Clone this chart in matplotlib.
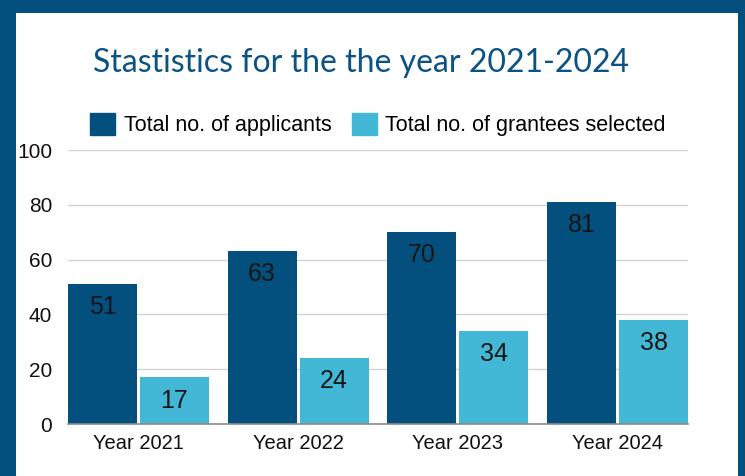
import numpy as np
import matplotlib
matplotlib.use("Agg")
import matplotlib.pyplot as plt
from matplotlib.patches import Rectangle, Patch

# Data
years = ["Year 2021", "Year 2022", "Year 2023", "Year 2024"]
applicants = [51, 63, 70, 81]
grantees = [17, 24, 34, 38]
series_names = ["Total no. of applicants", "Total no. of grantees selected"]
y_ticks = [0, 20, 40, 60, 80, 100]

dark = "#03507f"
light = "#42b8d6"
frame = "#03507f"

plt.rcParams["font.family"] = ["Liberation Sans", "DejaVu Sans"]

W, H = 745, 476
fig = plt.figure(figsize=(W / 100, H / 100), dpi=100)
fig.patch.set_facecolor("white")

# blue frame (top, left, right)
fig.add_artist(Rectangle((0, 1 - 13 / H), 1, 13 / H, transform=fig.transFigure,
                         color=frame, lw=0, zorder=0))
fig.add_artist(Rectangle((0, 0), 15.5 / W, 1, transform=fig.transFigure,
                         color=frame, lw=0, zorder=0))
fig.add_artist(Rectangle((738 / W, 0), 7 / W, 1, transform=fig.transFigure,
                         color=frame, lw=0, zorder=0))

ax = fig.add_axes([68 / W, 52 / H, 620 / W, 274 / H])

w = 69 / 160
gap = 3 / 160
off = (w + gap) / 2
x = np.arange(len(years))

b1 = ax.bar(x - off, applicants, width=w, color=dark, zorder=2)
b2 = ax.bar(x + off, grantees, width=w, color=light, zorder=2)

for bars, vals in [(b1, applicants), (b2, grantees)]:
    for bar, v in zip(bars, vals):
        ax.annotate(str(v), (bar.get_x() + bar.get_width() / 2, v),
                    xytext=(0, -8), textcoords="offset points",
                    ha="center", va="top", fontsize=18, color="#151515", zorder=3)

ax.set_xlim(-off - w / 2, len(years) - 1 + off + w / 2)
ax.set_ylim(0, 100)
ax.set_yticks(y_ticks)
ax.set_xticks(x)
ax.set_xticklabels(years)
ax.tick_params(axis="y", length=0, pad=11.5, labelsize=15, labelcolor="#111111")
ax.tick_params(axis="x", length=0, pad=7, labelsize=14.5, labelcolor="#111111")
ax.grid(axis="y", color="#d3d3d3", lw=1, zorder=0)
ax.set_axisbelow(True)
for s in ["top", "right", "left"]:
    ax.spines[s].set_visible(False)
ax.spines["bottom"].set_color("#8a8a8a")
ax.spines["bottom"].set_linewidth(1.2)
ax.spines["bottom"].set_zorder(3)

fig.text(361 / W, 1 - 72 / H, "Stastistics for the the year 2021-2024",
         ha="center", va="baseline", fontsize=23, color="#0b5285", family="Lato")

handles = [Patch(color=dark), Patch(color=light)]
fig.legend(handles, series_names, loc="center left",
           bbox_to_anchor=(90 / W, 1 - 124.5 / H), ncol=2, frameon=False,
           fontsize=15.5, handlelength=1.18, handleheight=1.18, handletextpad=0.38,
           columnspacing=0.95, borderpad=0, borderaxespad=0)

fig.savefig("out.png", dpi=100)
